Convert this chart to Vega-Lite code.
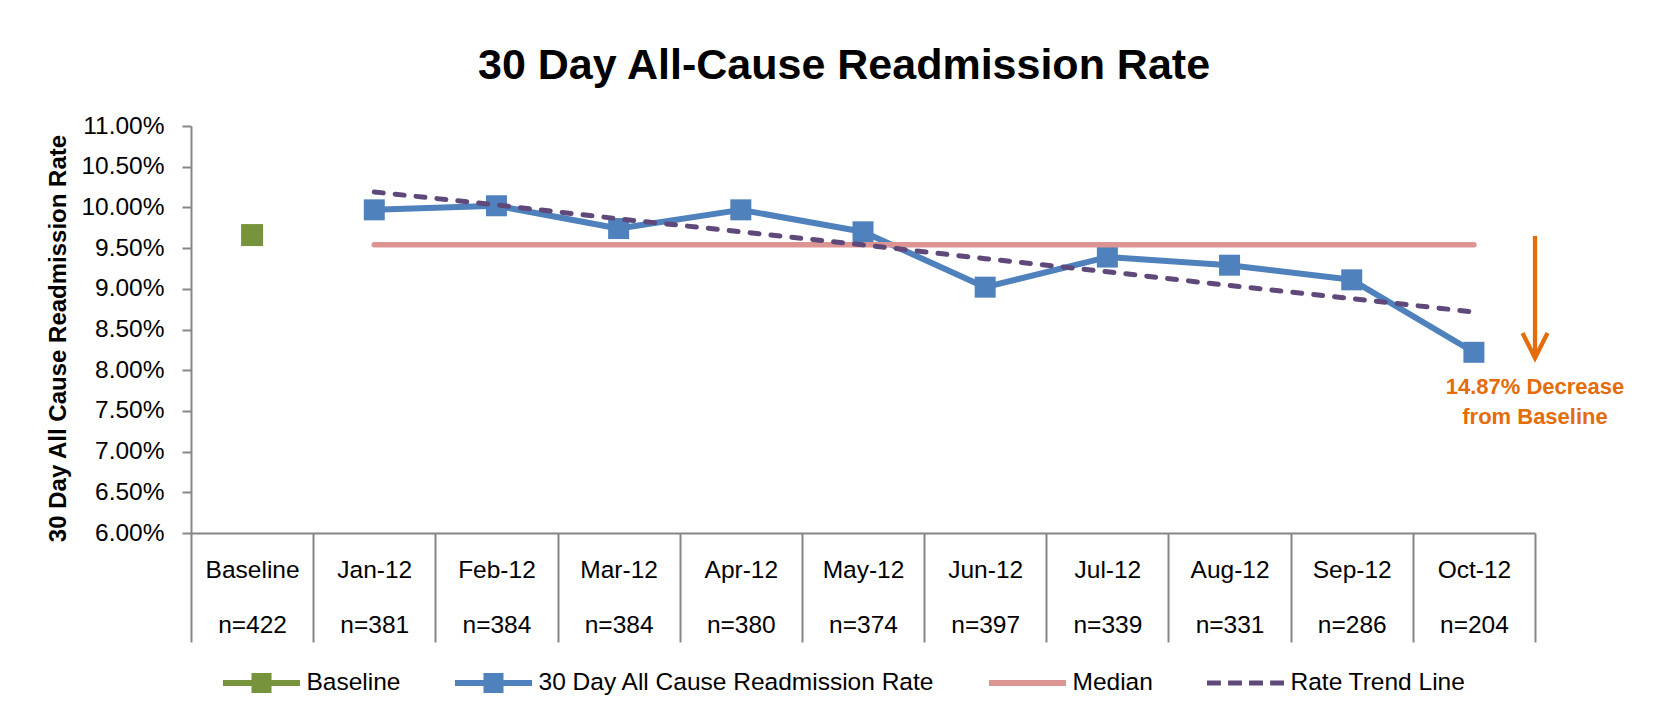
{
  "$schema": "https://vega.github.io/schema/vega-lite/v6.json",
  "width": 1344,
  "height": 407,
  "autosize": {"type": "none"},
  "padding": {"left": 191, "top": 126, "right": 133, "bottom": 188},
  "background": "white",
  "config": {"view": {"stroke": null}, "font": "Liberation Sans"},
  "title": {
    "text": "30 Day All-Cause Readmission Rate",
    "font": "Liberation Sans",
    "fontSize": 43,
    "fontWeight": "bold",
    "color": "black",
    "anchor": "middle",
    "frame": "group",
    "baseline": "alphabetic",
    "dx": -19,
    "offset": -9
  },
  "datasets": {
    "months": [
      {"cat": "Baseline|n=422", "baseline": 9.66},
      {"cat": "Jan-12|n=381", "rate": 9.97, "median": 9.54, "trend": 10.19},
      {"cat": "Feb-12|n=384", "rate": 10.02, "median": 9.54, "trend": 10.03},
      {"cat": "Mar-12|n=384", "rate": 9.74, "median": 9.54, "trend": 9.86},
      {"cat": "Apr-12|n=380", "rate": 9.97, "median": 9.54, "trend": 9.70},
      {"cat": "May-12|n=374", "rate": 9.70, "median": 9.54, "trend": 9.54},
      {"cat": "Jun-12|n=397", "rate": 9.02, "median": 9.54, "trend": 9.37},
      {"cat": "Jul-12|n=339", "rate": 9.39, "median": 9.54, "trend": 9.21},
      {"cat": "Aug-12|n=331", "rate": 9.29, "median": 9.54, "trend": 9.04},
      {"cat": "Sep-12|n=286", "rate": 9.11, "median": 9.54, "trend": 8.88},
      {"cat": "Oct-12|n=204", "rate": 8.22, "median": 9.54, "trend": 8.715}
    ],
    "legend": [
      {"series": "Baseline"},
      {"series": "30 Day All Cause Readmission Rate"},
      {"series": "Median"},
      {"series": "Rate Trend Line"}
    ],
    "note": [
      {"cat": "Oct-12|n=204", "from": 9.65, "to": 8.15, "textv": 7.79, "label": "14.87% Decrease\nfrom Baseline"}
    ]
  },
  "encoding": {
    "x": {
      "field": "cat",
      "type": "nominal",
      "sort": null,
      "scale": {
        "type": "band",
        "domain": ["Baseline|n=422", "Jan-12|n=381", "Feb-12|n=384", "Mar-12|n=384", "Apr-12|n=380", "May-12|n=374", "Jun-12|n=397", "Jul-12|n=339", "Aug-12|n=331", "Sep-12|n=286", "Oct-12|n=204"],
        "paddingInner": 0,
        "paddingOuter": 0
      },
      "axis": {
        "title": null,
        "labelExpr": "split(datum.label, '|')",
        "labelAngle": 0,
        "tickBand": "extent",
        "tickSize": 109,
        "tickColor": "#868686",
        "tickWidth": 2,
        "domainColor": "#868686",
        "domainWidth": 2,
        "labelFont": "Liberation Sans",
        "labelFontSize": 24.5,
        "labelColor": "black",
        "labelLineHeight": 55,
        "labelBaseline": "middle",
        "labelPadding": -72,
        "labelOverlap": false,
        "grid": false
      }
    },
    "y": {
      "field": "value",
      "type": "quantitative",
      "scale": {"domain": [6, 11], "nice": false, "zero": false},
      "axis": {
        "title": "30 Day All Cause Readmission Rate",
        "titleFont": "Liberation Sans",
        "titleFontSize": 24,
        "titleFontWeight": "bold",
        "titleColor": "black",
        "titlePadding": 10,
        "titleY": 212,
        "values": [6, 6.5, 7, 7.5, 8, 8.5, 9, 9.5, 10, 10.5, 11],
        "labelExpr": "format(datum.value, '.2f') + '%'",
        "labelFont": "Liberation Sans",
        "labelFontSize": 24.5,
        "labelColor": "black",
        "labelPadding": 18,
        "tickSize": 9,
        "tickColor": "#868686",
        "tickWidth": 2,
        "domainColor": "#868686",
        "domainWidth": 2,
        "grid": false
      }
    }
  },
  "layer": [
    {
      "data": {"name": "months"},
      "transform": [{"fold": ["baseline", "rate", "median", "trend"], "as": ["series", "value"]}, {"filter": "datum.series === 'rate'"}],
      "mark": {"type": "line", "color": "#4F81BD", "strokeWidth": 6, "strokeCap": "round", "strokeJoin": "round"}
    },
    {
      "data": {"name": "months"},
      "transform": [{"fold": ["baseline", "rate", "median", "trend"], "as": ["series", "value"]}, {"filter": "datum.series === 'rate'"}],
      "mark": {"type": "point", "shape": "square", "filled": true, "opacity": 1, "size": 441, "color": "#4F81BD"}
    },
    {
      "data": {"name": "months"},
      "transform": [{"fold": ["baseline", "rate", "median", "trend"], "as": ["series", "value"]}, {"filter": "datum.series === 'median'"}],
      "mark": {"type": "line", "color": "#DC9593", "strokeWidth": 5.5, "strokeCap": "round"}
    },
    {
      "data": {"name": "months"},
      "transform": [{"fold": ["baseline", "rate", "median", "trend"], "as": ["series", "value"]}, {"filter": "datum.series === 'trend'"}],
      "mark": {"type": "line", "color": "#5F497A", "strokeWidth": 5, "strokeCap": "round", "strokeDash": [9, 12]}
    },
    {
      "data": {"name": "months"},
      "transform": [{"fold": ["baseline", "rate", "median", "trend"], "as": ["series", "value"]}, {"filter": "datum.series === 'baseline'"}],
      "mark": {"type": "point", "shape": "square", "filled": true, "opacity": 1, "size": 484, "color": "#77933C"}
    },
    {
      "data": {"name": "legend"},
      "mark": {"type": "point", "filled": true, "opacity": 0},
      "encoding": {
        "color": {
          "field": "series",
          "type": "nominal",
          "scale": {
            "domain": ["Baseline", "30 Day All Cause Readmission Rate", "Median", "Rate Trend Line"],
            "range": ["#77933C", "#4F81BD", "#DC9593", "#5F497A"]
          },
          "legend": {
            "title": null,
            "orient": "none",
            "legendX": 32,
            "legendY": 518.5,
            "direction": "horizontal",
            "symbolSize": 5929,
            "symbolStrokeWidth": 0,
            "symbolOpacity": 1,
            "labelFont": "Liberation Sans",
            "labelFontSize": 24.5,
            "labelColor": "black",
            "labelOffset": 6.5,
            "labelLimit": 700,
            "columnPadding": 54
          }
        },
        "shape": {
          "field": "series",
          "type": "nominal",
          "scale": {
            "domain": ["Baseline", "30 Day All Cause Readmission Rate", "Median", "Rate Trend Line"],
            "range": [
              "M-1,-0.078H1V0.078H-1Z M-0.26,-0.26H0.26V0.26H-0.26Z",
              "M-1,-0.078H1V0.078H-1Z M-0.26,-0.26H0.26V0.26H-0.26Z",
              "M-1,-0.078H1V0.078H-1Z",
              "M-1,-0.065H-0.64V0.065H-1Z M-0.453,-0.065H-0.093V0.065H-0.453Z M0.093,-0.065H0.453V0.065H0.093Z M0.64,-0.065H1V0.065H0.64Z"
            ]
          },
          "legend": {
            "title": null,
            "orient": "none",
            "legendX": 32,
            "legendY": 518.5,
            "direction": "horizontal",
            "symbolSize": 5929,
            "symbolStrokeWidth": 0,
            "symbolOpacity": 1,
            "labelFont": "Liberation Sans",
            "labelFontSize": 24.5,
            "labelColor": "black",
            "labelOffset": 6.5,
            "labelLimit": 700,
            "columnPadding": 54
          }
        }
      }
    },
    {
      "data": {"name": "note"},
      "mark": {"type": "rule", "color": "#E46C0A", "strokeWidth": 4.3},
      "encoding": {
        "x": {"field": "cat", "type": "nominal", "bandPosition": 1},
        "y": {"field": "from", "type": "quantitative", "axis": {"title": "30 Day All Cause Readmission Rate"}},
        "y2": {"field": "to"}
      }
    },
    {
      "data": {"name": "note"},
      "mark": {"type": "point", "shape": "M-1,-2L0,0L1,-2", "filled": false, "stroke": "#E46C0A", "strokeWidth": 4.3, "size": 625, "opacity": 1},
      "encoding": {
        "x": {"field": "cat", "type": "nominal", "bandPosition": 1},
        "y": {"field": "to", "type": "quantitative", "axis": {"title": "30 Day All Cause Readmission Rate"}}
      }
    },
    {
      "data": {"name": "note"},
      "mark": {"type": "text", "font": "Liberation Sans", "fontSize": 22, "fontWeight": "bold", "color": "#E46C0A", "align": "center", "baseline": "middle", "lineBreak": "\n", "lineHeight": 30},
      "encoding": {
        "x": {"field": "cat", "type": "nominal", "bandPosition": 1},
        "y": {"field": "textv", "type": "quantitative", "axis": {"title": "30 Day All Cause Readmission Rate"}},
        "text": {"field": "label"}
      }
    }
  ]
}
